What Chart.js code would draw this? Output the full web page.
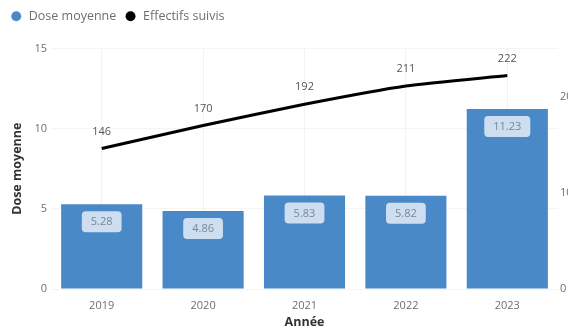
<!DOCTYPE html>
<html>
<head>
<meta charset="utf-8">
<script src="https://cdn.jsdelivr.net/npm/chart.js@4.4.1/dist/chart.umd.min.js"></script>
<style>
  html, body { margin: 0; padding: 0; background: #fff; overflow: hidden; }
  #wrap { width: 568px; height: 327px; }
</style>
</head>
<body>
<div id="wrap"><canvas id="chart" width="568" height="327"></canvas></div>
<script>
// data
const years = ['2019', '2020', '2021', '2022', '2023'];
const doseMoyenne = [5.28, 4.86, 5.83, 5.82, 11.23];
const effectifs = [146, 170, 192, 211, 222];
const doseTicks = [0, 5, 10, 15];
const effTicks = [0, 100, 200];

const barColor = '#4a89c8';
const txtColor = '#6e6e6e';
const fontFam = '"Open Sans", "Liberation Sans", sans-serif';

// extra room under the legend
const legendGap = {
  id: 'legendGap',
  beforeLayout(chart) {
    const lg = chart.legend;
    if (lg && !lg._gap) {
      const fit = lg.fit;
      lg.fit = function () { fit.call(this); this.height += 16; };
      lg._gap = true;
    }
  }
};

// value labels: boxed for bars, plain above the line
const valueLabels = {
  id: 'valueLabels',
  afterDatasetsDraw(chart) {
    const ctx = chart.ctx;
    ctx.save();
    ctx.font = '11px ' + fontFam;
    ctx.textAlign = 'center';
    ctx.textBaseline = 'middle';

    chart.getDatasetMeta(0).data.forEach((bar, i) => {
      const txt = doseMoyenne[i].toFixed(2);
      const w = ctx.measureText(txt).width + 18;
      const h = 21;
      const x = bar.x - w / 2;
      const y = bar.y + 7;
      ctx.fillStyle = 'rgba(255,255,255,0.72)';
      ctx.beginPath();
      ctx.roundRect(x, y, w, h, 4);
      ctx.fill();
      ctx.fillStyle = '#7a8794';
      ctx.fillText(txt, bar.x, y + h / 2 + 0.5);
    });

    chart.getDatasetMeta(1).data.forEach((pt, i) => {
      ctx.fillStyle = '#555';
      ctx.fillText(String(effectifs[i]), pt.x, pt.y - 17);
    });
    ctx.restore();
  }
};

new Chart(document.getElementById('chart'), {
  data: {
    labels: years,
    datasets: [{
      type: 'bar',
      label: 'Dose moyenne',
      data: doseMoyenne,
      backgroundColor: barColor,
      barPercentage: 0.8,
      categoryPercentage: 1,
      yAxisID: 'y',
      order: 2
    }, {
      type: 'line',
      label: 'Effectifs suivis',
      data: effectifs,
      borderColor: '#000',
      backgroundColor: '#000',
      borderWidth: 3,
      pointRadius: 0,
      pointStyle: 'circle',
      tension: 0.2,
      yAxisID: 'y1',
      order: 1
    }]
  },
  options: {
    responsive: false,
    animation: false,
    layout: { padding: { top: 2, left: 2, right: 0, bottom: 0 } },
    plugins: {
      tooltip: { enabled: false },
      legend: {
        position: 'top',
        align: 'start',
        labels: {
          usePointStyle: true,
          boxHeight: 7,
          padding: 8,
          color: txtColor,
          font: { family: fontFam, size: 12.5 },
          sort: (a, b) => a.datasetIndex - b.datasetIndex,
          generateLabels(chart) {
            return Chart.defaults.plugins.legend.labels.generateLabels(chart)
              .map(l => Object.assign(l, { lineWidth: 0, strokeStyle: 'transparent' }));
          }
        }
      }
    },
    scales: {
      x: {
        grid: { color: 'rgba(0,0,0,0.05)', offset: false, drawTicks: false },
        border: { display: false },
        ticks: { color: txtColor, font: { family: fontFam, size: 11 }, padding: 10 },
        title: {
          display: true,
          text: 'Année',
          color: '#333',
          font: { family: fontFam, size: 12.5, weight: 'bold' },
          padding: { top: 0, bottom: -3 }
        },
        afterFit(s) { s.height = 38; }
      },
      y: {
        position: 'left',
        min: 0,
        max: 15,
        afterBuildTicks(s) { s.ticks = doseTicks.map(v => ({ value: v })); },
        grid: { color: 'rgba(0,0,0,0.04)', drawTicks: false },
        border: { display: false },
        ticks: { color: txtColor, font: { family: fontFam, size: 11 }, padding: 4 },
        title: {
          display: true,
          text: 'Dose moyenne',
          color: '#333',
          font: { family: fontFam, size: 12.5, weight: 'bold' },
          padding: { top: 8, bottom: 0 }
        },
        afterFit(s) { s.width = 49; }
      },
      y1: {
        position: 'right',
        min: 0,
        max: 250,
        afterBuildTicks(s) { s.ticks = effTicks.map(v => ({ value: v })); },
        grid: { display: false, drawTicks: false },
        border: { display: false },
        ticks: { color: txtColor, font: { family: fontFam, size: 11 }, padding: 2 },
        afterFit(s) { s.width = 10; }
      }
    }
  },
  plugins: [legendGap, valueLabels]
});
</script>
</body>
</html>
